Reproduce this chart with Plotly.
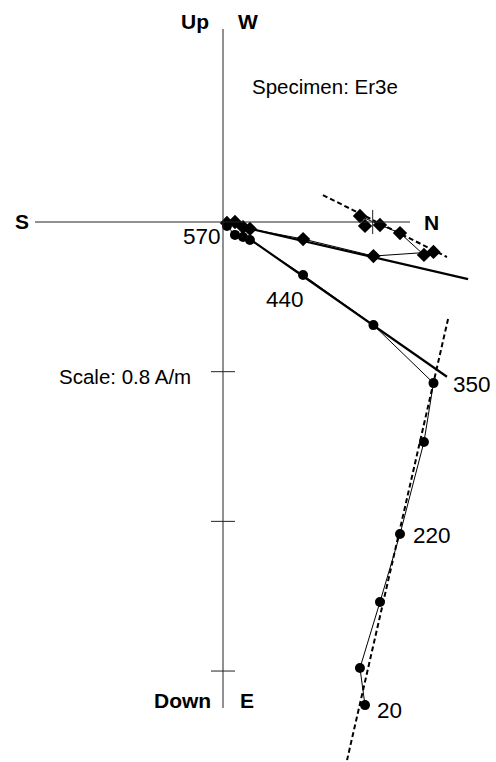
import plotly.graph_objects as go

# Demagnetisation steps (only some are labelled on the plot)
steps = ["20", "", "", "220", "", "350", "", "440", "", "", "", "570"]

# Magnetisation components in A/m
north = [0.759, 0.732, 0.839, 0.946, 1.074, 1.125, 0.804, 0.428, 0.144, 0.107, 0.064, 0.021]
east = [0.021, -0.032, 0.016, 0.059, 0.176, 0.160, 0.182, 0.091, 0.037, 0.027, 0.000, 0.005]
down = [2.582, 2.384, 2.031, 1.668, 1.176, 0.861, 0.551, 0.283, 0.096, 0.080, 0.069, 0.021]

# Principal-component fit segments: (N start, N end), (other start, other end)
fit_vert_solid_n = [0.150, 1.197]
fit_vert_solid_d = [0.096, 0.827]
fit_horiz_solid_n = [0.107, 1.310]
fit_horiz_solid_e = [0.027, 0.305]
fit_horiz_dash_n = [0.534, 1.197]
fit_horiz_dash_e = [-0.144, 0.187]
fit_vert_dash_n = [1.203, 0.663]
fit_vert_dash_d = [0.518, 2.876]

scale_step = 0.8  # A/m per tick
vert_ticks = [0.8, 1.6, 2.4]
horiz_ticks = [0.8]

W, H = 496, 762
k = 187.1            # pixels per A/m
ox, oy = 223, 222    # origin in pixels

x_range = [-ox / k, (W - ox) / k]
y_range = [(H - oy) / k, -oy / k]

ink = "#000000"
font_family = "Liberation Sans, Arial, sans-serif"

fig = go.Figure()

# Data paths (thin)
fig.add_trace(go.Scatter(x=north, y=down, mode="lines",
                         line=dict(color=ink, width=1), hoverinfo="skip"))
fig.add_trace(go.Scatter(x=north, y=east, mode="lines",
                         line=dict(color=ink, width=1), hoverinfo="skip"))

# Fit lines
fig.add_trace(go.Scatter(x=fit_vert_solid_n, y=fit_vert_solid_d, mode="lines",
                         line=dict(color=ink, width=2.2)))
fig.add_trace(go.Scatter(x=fit_horiz_solid_n, y=fit_horiz_solid_e, mode="lines",
                         line=dict(color=ink, width=2.2)))
fig.add_trace(go.Scatter(x=fit_horiz_dash_n, y=fit_horiz_dash_e, mode="lines",
                         line=dict(color=ink, width=2, dash="5px,3px")))
fig.add_trace(go.Scatter(x=fit_vert_dash_n, y=fit_vert_dash_d, mode="lines",
                         line=dict(color=ink, width=2, dash="5px,3px")))

# Markers: vertical projection (circles), horizontal projection (diamonds)
fig.add_trace(go.Scatter(x=north, y=down, mode="markers",
                         marker=dict(symbol="circle", size=10, color=ink)))
fig.add_trace(go.Scatter(x=north, y=east, mode="markers",
                         marker=dict(symbol="diamond", size=11, color=ink)))

# Axes
axis_line = dict(color="#222222", width=1)
fig.add_shape(type="line", x0=0, x1=0, y0=(29 - oy) / k, y1=(708 - oy) / k, line=axis_line)
fig.add_shape(type="line", x0=(35 - ox) / k, x1=(410 - ox) / k, y0=0, y1=0, line=axis_line)
half = 12 / k
for t in vert_ticks:
    fig.add_shape(type="line", x0=-half, x1=half, y0=t, y1=t, line=axis_line)
for t in horiz_ticks:
    fig.add_shape(type="line", x0=t, x1=t, y0=-half, y1=half, line=axis_line)

def label(text, px, py, size, bold=False, anchor="center"):
    fig.add_annotation(x=(px - ox) / k, y=(py - oy) / k, text=f"<b>{text}</b>" if bold else text,
                       showarrow=False, xanchor=anchor, yanchor="middle",
                       font=dict(family=font_family, size=size, color=ink))

# Axis direction labels
label("Up", 195, 21, 21, bold=True)
label("W", 248, 21, 21, bold=True)
label("S", 22, 221, 21, bold=True)
label("N", 431, 222, 21, bold=True)
label("Down", 182, 700, 21, bold=True)
label("E", 247, 700, 21, bold=True)

label("Specimen: Er3e", 325, 86, 20.5)
label("Scale: " + f"{scale_step:g}" + " A/m", 125, 376, 20.5)

# Step labels next to their vertical-projection points
offsets = {"20": (24, 5), "220": (32, 1), "350": (39, 1), "440": (-18, 25), "570": (-25, 11)}
for s, n, d in zip(steps, north, down):
    if s:
        dx, dy = offsets[s]
        px = ox + n * k + dx
        py = oy + d * k + dy
        label(s, px, py, 22.5)

fig.update_layout(
    width=W, height=H,
    margin=dict(l=0, r=0, t=0, b=0),
    paper_bgcolor="white", plot_bgcolor="white",
    showlegend=False,
    xaxis=dict(range=x_range, visible=False, fixedrange=True),
    yaxis=dict(range=y_range, visible=False, fixedrange=True),
)

fig.write_html("out.html")
